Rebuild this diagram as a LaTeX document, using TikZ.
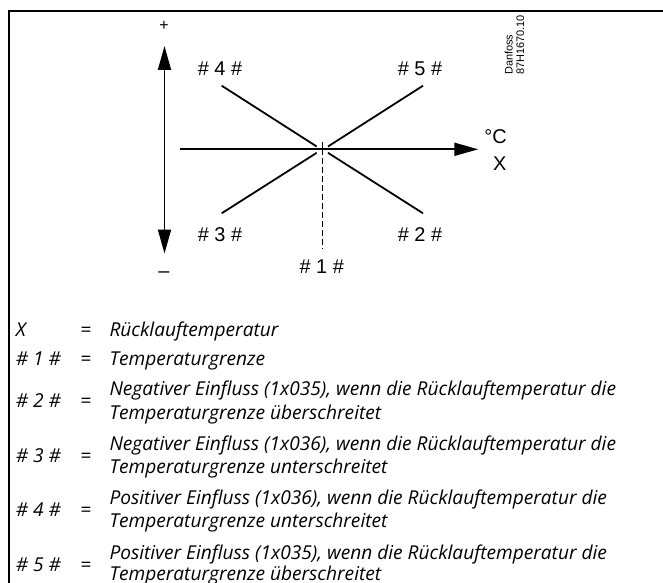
\documentclass[tikz,border=0pt]{standalone}
\usepackage{fontspec}
\setmainfont{Liberation Sans}
\newfontfamily\legfont{Open Sans}
\usetikzlibrary{arrows.meta}
\tikzset{
  frameline/.style={line width=2bp, line cap=rect},
  axis/.style={line width=1.8bp, -{Triangle[length=24bp,width=13bp]}},
  diag/.style={line width=1.8bp},
  lbl/.style={inner sep=0pt, font=\fontsize{20}{24}\selectfont},
  small/.style={inner sep=0pt, font=\fontsize{11}{13}\selectfont, rotate=90, anchor=base west},
  leg/.style={inner sep=0pt, anchor=base west, font=\legfont\itshape\fontsize{19.2}{22}\selectfont},
  eq/.style={inner sep=0pt, anchor=base, font=\legfont\fontsize{19.2}{22}\selectfont}
}
\begin{document}
\begin{tikzpicture}[x=1bp,y=-1bp]
\useasboundingbox (0,0) rectangle (663,583);
% frame
\coordinate (fb) at (9,590);
\coordinate (fc) at (9,11);
\coordinate (fr) at (670,11);
\draw[frameline] (fb) -- (fc) -- (fr);

% axes
\coordinate (O) at (322.3,149.3);
\coordinate (vt) at (164.5,46);
\coordinate (vb) at (164.5,253.5);
\coordinate (vm) at (164.5,150);
\coordinate (hs) at (180,149.3);
\coordinate (he) at (478.3,149.3);
\draw[axis] (vm) -- (vt);
\draw[axis] (vm) -- (vb);
\draw[axis] (hs) -- (he);

% diagonals
\coordinate (a4) at (221.7,85.7);  \coordinate (b4) at (316.7,146.5);
\coordinate (a5) at (423,85.7);    \coordinate (b5) at (328,146.5);
\coordinate (a3) at (221.7,213.3); \coordinate (b3) at (316.7,152.8);
\coordinate (a2) at (423,213.3);   \coordinate (b2) at (328,152.8);
\draw[diag] (a4) -- (b4);
\draw[diag] (a5) -- (b5);
\draw[diag] (a3) -- (b3);
\draw[diag] (a2) -- (b2);

% tick and dashed limit
\coordinate (tk) at (322.3,142.3);
\coordinate (dl) at (322.3,248.5);
\draw[line width=0.9bp] (tk) -- (O);
\draw[line width=0.9bp, dash pattern=on 5.5bp off 3.5bp] (O) -- (dl);

% labels
\node[lbl] (n4) at (220,69) {\# 4 \#};
\node[lbl] (n5) at (420,69) {\# 5 \#};
\node[lbl] (n3) at (220,235) {\# 3 \#};
\node[lbl] (n2) at (420,235) {\# 2 \#};
\node[lbl] (n1) at (321.7,266.7) {\# 1 \#};
\node[lbl] (deg) at (495.6,136.7) {°C};
\node[lbl] (xa) at (499.8,164) {X};
\node[inner sep=0pt, font=\fontsize{16}{18}\selectfont] (plus) at (164,26) {+};
\node[lbl] (minus) at (164,275) {–};

% Danfoss code
\node[small] (df) at (512.7,75) {Danfoss};
\node[small] (dc) at (524,75) {87H1670.10};

% legend
\node[leg] (kx) at (15.7,336) {X};
\node[eq] (ex) at (86,336) {=};
\node[leg] (tx) at (109.3,336) {Rücklauftemperatur};

\node[leg] (k1) at (15.7,365.5) {\# 1 \#};
\node[eq] (e1) at (86,365.5) {=};
\node[leg] (t1) at (109.3,365.5) {Temperaturgrenze};

\node[leg] (k2) at (15.7,407.5) {\# 2 \#};
\node[eq] (e2) at (86,407.5) {=};
\node[leg] (t2a) at (109.3,395.5) {Negativer Einfluss (1x035), wenn die Rücklauftemperatur die};
\node[leg] (t2b) at (109.3,419) {Temperaturgrenze überschreitet};

\node[leg] (k3) at (15.7,462.5) {\# 3 \#};
\node[eq] (e3) at (86,462.5) {=};
\node[leg] (t3a) at (109.3,450) {Negativer Einfluss (1x036), wenn die Rücklauftemperatur die};
\node[leg] (t3b) at (109.3,473.5) {Temperaturgrenze unterschreitet};

\node[leg] (k4) at (15.7,516) {\# 4 \#};
\node[eq] (e4) at (86,516) {=};
\node[leg] (t4a) at (109.3,504) {Positiver Einfluss (1x036), wenn die Rücklauftemperatur die};
\node[leg] (t4b) at (109.3,527.5) {Temperaturgrenze unterschreitet};

\node[leg] (k5) at (15.7,571) {\# 5 \#};
\node[eq] (e5) at (86,571) {=};
\node[leg] (t5a) at (109.3,559) {Positiver Einfluss (1x035), wenn die Rücklauftemperatur die};
\node[leg] (t5b) at (109.3,580.5) {Temperaturgrenze überschreitet};
\end{tikzpicture}
\end{document}
